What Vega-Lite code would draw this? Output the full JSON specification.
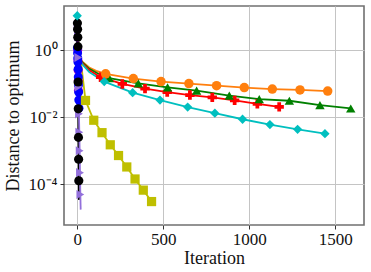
{
  "$schema": "https://vega.github.io/schema/vega-lite/v6.json",
  "width": 300,
  "height": 219,
  "autosize": {"type": "none"},
  "padding": {"left": 64, "top": 6, "right": 7, "bottom": 47},
  "background": "white",
  "config": {
    "view": {"stroke": "#707070", "strokeWidth": 1.6},
    "font": "Liberation Serif",
    "axis": {
      "domain": false,
      "grid": true,
      "gridColor": "#c4c4c4",
      "gridWidth": 1,
      "tickColor": "#333333",
      "tickSize": 4,
      "labelFont": "Liberation Serif",
      "labelFontSize": 17,
      "labelColor": "#111111",
      "titleFont": "Liberation Serif",
      "titleFontSize": 18,
      "titleFontWeight": "normal",
      "titleColor": "#111111"
    }
  },
  "datasets": {
    "curves": [
      {"s": "A", "it": 0, "v": 10.47}, {"s": "A", "it": 2, "v": 1.0}, {"s": "A", "it": 10, "v": 0.63}, {"s": "A", "it": 30, "v": 0.447}, {"s": "A", "it": 70, "v": 0.302}, {"s": "A", "it": 110, "v": 0.24}, {"s": "A", "it": 165, "v": 0.195}, {"s": "A", "it": 326, "v": 0.141}, {"s": "A", "it": 487, "v": 0.115}, {"s": "A", "it": 649, "v": 0.1}, {"s": "A", "it": 810, "v": 0.087}, {"s": "A", "it": 971, "v": 0.076}, {"s": "A", "it": 1134, "v": 0.069}, {"s": "A", "it": 1295, "v": 0.065}, {"s": "A", "it": 1456, "v": 0.06},
      {"s": "B", "it": 0, "v": 10.47}, {"s": "B", "it": 2, "v": 1.0}, {"s": "B", "it": 10, "v": 0.6}, {"s": "B", "it": 30, "v": 0.427}, {"s": "B", "it": 70, "v": 0.275}, {"s": "B", "it": 120, "v": 0.2}, {"s": "B", "it": 186, "v": 0.145}, {"s": "B", "it": 355, "v": 0.102}, {"s": "B", "it": 525, "v": 0.0776}, {"s": "B", "it": 694, "v": 0.0617}, {"s": "B", "it": 884, "v": 0.0437}, {"s": "B", "it": 1058, "v": 0.0347}, {"s": "B", "it": 1233, "v": 0.0309}, {"s": "B", "it": 1411, "v": 0.0229}, {"s": "B", "it": 1590, "v": 0.0182},
      {"s": "C", "it": 0, "v": 10.47}, {"s": "C", "it": 2, "v": 1.0}, {"s": "C", "it": 10, "v": 0.575}, {"s": "C", "it": 30, "v": 0.398}, {"s": "C", "it": 70, "v": 0.251}, {"s": "C", "it": 136, "v": 0.155}, {"s": "C", "it": 262, "v": 0.0977}, {"s": "C", "it": 394, "v": 0.0708}, {"s": "C", "it": 523, "v": 0.0562}, {"s": "C", "it": 655, "v": 0.0457}, {"s": "C", "it": 785, "v": 0.0389}, {"s": "C", "it": 915, "v": 0.0316}, {"s": "C", "it": 1047, "v": 0.0251}, {"s": "C", "it": 1174, "v": 0.0204},
      {"s": "D", "it": 0, "v": 10.47}, {"s": "D", "it": 2, "v": 1.0}, {"s": "D", "it": 10, "v": 0.55}, {"s": "D", "it": 30, "v": 0.372}, {"s": "D", "it": 70, "v": 0.219}, {"s": "D", "it": 157, "v": 0.115}, {"s": "D", "it": 322, "v": 0.0537}, {"s": "D", "it": 481, "v": 0.0324}, {"s": "D", "it": 642, "v": 0.02}, {"s": "D", "it": 800, "v": 0.0132}, {"s": "D", "it": 961, "v": 0.0087}, {"s": "D", "it": 1120, "v": 0.00603}, {"s": "D", "it": 1281, "v": 0.00437}, {"s": "D", "it": 1440, "v": 0.00324},
      {"s": "E", "it": 0, "v": 10.47}, {"s": "E", "it": 5, "v": 2.0}, {"s": "E", "it": 20, "v": 0.5}, {"s": "E", "it": 48, "v": 0.0316}, {"s": "E", "it": 96, "v": 0.00813}, {"s": "E", "it": 144, "v": 0.00347}, {"s": "E", "it": 192, "v": 0.00151}, {"s": "E", "it": 240, "v": 0.000724}, {"s": "E", "it": 288, "v": 0.000331}, {"s": "E", "it": 336, "v": 0.000145}, {"s": "E", "it": 384, "v": 0.0000676}, {"s": "E", "it": 432, "v": 0.0000309},
      {"s": "F", "it": 0, "v": 10.47}, {"s": "F", "it": 1, "v": 6.31}, {"s": "F", "it": 2, "v": 4.17}, {"s": "F", "it": 3, "v": 2.4}, {"s": "F", "it": 4, "v": 1.26}, {"s": "F", "it": 5, "v": 0.112}, {"s": "F", "it": 6, "v": 0.0178}, {"s": "F", "it": 7, "v": 0.00251}, {"s": "F", "it": 8, "v": 0.000562}, {"s": "F", "it": 9, "v": 0.000129}, {"s": "F", "it": 10, "v": 0.0000347},
      {"s": "G", "it": 0, "v": 10.47}, {"s": "G", "it": 2, "v": 5.25}, {"s": "G", "it": 4, "v": 2.5}, {"s": "G", "it": 6, "v": 0.6}, {"s": "G", "it": 8, "v": 0.08}, {"s": "G", "it": 10, "v": 0.0126}, {"s": "G", "it": 12, "v": 0.00355}, {"s": "G", "it": 14, "v": 0.001}, {"s": "G", "it": 16, "v": 0.000224}, {"s": "G", "it": 18, "v": 0.0000501}, {"s": "G", "it": 20, "v": 0.0000178},
      {"s": "H", "it": 0, "v": 10.47}, {"s": "H", "it": 1, "v": 1.15}, {"s": "H", "it": 2, "v": 0.81}, {"s": "H", "it": 3, "v": 0.575}, {"s": "H", "it": 4, "v": 0.437}, {"s": "H", "it": 5, "v": 0.269}, {"s": "H", "it": 6, "v": 0.158}, {"s": "H", "it": 7, "v": 0.0912}, {"s": "H", "it": 8, "v": 0.0562}, {"s": "H", "it": 9, "v": 0.0324}, {"s": "H", "it": 10, "v": 0.0186},
      {"s": "I", "it": 0, "v": 10.47}, {"s": "I", "it": 1, "v": 4.0}, {"s": "I", "it": 2, "v": 2.0}, {"s": "I", "it": 3, "v": 1.0}, {"s": "I", "it": 4, "v": 0.5}, {"s": "I", "it": 5, "v": 0.25}, {"s": "I", "it": 6, "v": 0.126}, {"s": "I", "it": 7, "v": 0.063}
    ],
    "marks": [
      {"s": "I", "it": 3, "v": 1.0}, {"s": "I", "it": 4, "v": 0.5}, {"s": "I", "it": 5, "v": 0.25}, {"s": "I", "it": 6, "v": 0.126}, {"s": "I", "it": 7, "v": 0.063},
      {"s": "H", "it": 1, "v": 1.15}, {"s": "H", "it": 2, "v": 0.81}, {"s": "H", "it": 3, "v": 0.575}, {"s": "H", "it": 4, "v": 0.437}, {"s": "H", "it": 5, "v": 0.269}, {"s": "H", "it": 6, "v": 0.158}, {"s": "H", "it": 7, "v": 0.0912}, {"s": "H", "it": 8, "v": 0.0562}, {"s": "H", "it": 9, "v": 0.0324}, {"s": "H", "it": 10, "v": 0.0186},
      {"s": "G", "it": 2, "v": 5.25}, {"s": "G", "it": 4, "v": 2.5}, {"s": "G", "it": 6, "v": 0.6}, {"s": "G", "it": 8, "v": 0.08}, {"s": "G", "it": 10, "v": 0.0126}, {"s": "G", "it": 12, "v": 0.00355}, {"s": "G", "it": 14, "v": 0.001}, {"s": "G", "it": 16, "v": 0.000224}, {"s": "G", "it": 18, "v": 0.0000501},
      {"s": "F", "it": 1, "v": 6.31}, {"s": "F", "it": 2, "v": 4.17}, {"s": "F", "it": 3, "v": 2.4}, {"s": "F", "it": 4, "v": 1.26}, {"s": "F", "it": 5, "v": 0.112}, {"s": "F", "it": 6, "v": 0.0178}, {"s": "F", "it": 7, "v": 0.00251}, {"s": "F", "it": 8, "v": 0.000562}, {"s": "F", "it": 9, "v": 0.000129},
      {"s": "E", "it": 48, "v": 0.0316}, {"s": "E", "it": 96, "v": 0.00813}, {"s": "E", "it": 144, "v": 0.00347}, {"s": "E", "it": 192, "v": 0.00151}, {"s": "E", "it": 240, "v": 0.000724}, {"s": "E", "it": 288, "v": 0.000331}, {"s": "E", "it": 336, "v": 0.000145}, {"s": "E", "it": 384, "v": 0.0000676}, {"s": "E", "it": 432, "v": 0.0000309},
      {"s": "C", "it": 136, "v": 0.155}, {"s": "C", "it": 262, "v": 0.0977}, {"s": "C", "it": 394, "v": 0.0708}, {"s": "C", "it": 523, "v": 0.0562}, {"s": "C", "it": 655, "v": 0.0457}, {"s": "C", "it": 785, "v": 0.0389}, {"s": "C", "it": 915, "v": 0.0316}, {"s": "C", "it": 1047, "v": 0.0251}, {"s": "C", "it": 1174, "v": 0.0204},
      {"s": "B", "it": 186, "v": 0.145}, {"s": "B", "it": 355, "v": 0.102}, {"s": "B", "it": 525, "v": 0.0776}, {"s": "B", "it": 694, "v": 0.0617}, {"s": "B", "it": 884, "v": 0.0437}, {"s": "B", "it": 1058, "v": 0.0347}, {"s": "B", "it": 1233, "v": 0.0309}, {"s": "B", "it": 1411, "v": 0.0229}, {"s": "B", "it": 1590, "v": 0.0182},
      {"s": "A", "it": 165, "v": 0.195}, {"s": "A", "it": 326, "v": 0.141}, {"s": "A", "it": 487, "v": 0.115}, {"s": "A", "it": 649, "v": 0.1}, {"s": "A", "it": 810, "v": 0.087}, {"s": "A", "it": 971, "v": 0.076}, {"s": "A", "it": 1134, "v": 0.069}, {"s": "A", "it": 1295, "v": 0.065}, {"s": "A", "it": 1456, "v": 0.06},
      {"s": "D", "it": 0, "v": 10.47}, {"s": "D", "it": 157, "v": 0.115}, {"s": "D", "it": 322, "v": 0.0537}, {"s": "D", "it": 481, "v": 0.0324}, {"s": "D", "it": 642, "v": 0.02}, {"s": "D", "it": 800, "v": 0.0132}, {"s": "D", "it": 961, "v": 0.0087}, {"s": "D", "it": 1120, "v": 0.00603}, {"s": "D", "it": 1281, "v": 0.00437}, {"s": "D", "it": 1440, "v": 0.00324}
    ]
  },
  "encoding": {
    "x": {
      "field": "it", "type": "quantitative",
      "scale": {"domain": [-77, 1667], "nice": false, "zero": false},
      "axis": {"values": [0, 500, 1000, 1500], "format": "d", "title": "Iteration", "labelFont": "Liberation Serif", "labelFontSize": 17, "labelPadding": 2, "titlePadding": 2, "labelFlush": false}
    },
    "y": {
      "field": "v", "type": "quantitative",
      "scale": {"type": "log", "domain": [0.0000062, 20.4], "nice": false},
      "axis": {"values": [1, 0.01, 0.0001], "title": "Distance to optimum", "labelFont": "Liberation Serif", "labelFontSize": 17, "labelPadding": 3, "titlePadding": 6,
        "labelExpr": "datum.value > 0.5 ? '10⁰' : (datum.value > 0.001 ? '10⁻²' : '10⁻⁴')"}
    },
    "color": {
      "field": "s", "type": "nominal", "legend": null,
      "scale": {"domain": ["A", "B", "C", "D", "E", "F", "G", "H", "I"],
        "range": ["#ff7f0e", "#008000", "#ff0000", "#00bfbf", "#bfbf00", "#000000", "#9370db", "#0000ff", "#bf00bf"]}
    }
  },
  "layer": [
    {
      "data": {"name": "curves"},
      "mark": {"type": "line", "strokeWidth": 1.8, "clip": true},
      "encoding": {"order": {"field": "it", "type": "quantitative"}}
    },
    {
      "data": {"name": "marks"},
      "mark": {"type": "point", "filled": true, "opacity": 1, "clip": true},
      "encoding": {
        "shape": {"field": "s", "type": "nominal", "legend": null,
          "scale": {"domain": ["A", "B", "C", "D", "E", "F", "G", "H", "I"],
            "range": ["circle", "triangle-up", "cross", "diamond", "square", "circle", "triangle-right", "circle", "circle"]}},
        "size": {"field": "s", "type": "nominal", "legend": null,
          "scale": {"domain": ["A", "B", "C", "D", "E", "F", "G", "H", "I"],
            "range": [90, 80, 70, 95, 60, 55, 35, 30, 18]}}
      }
    }
  ]
}
